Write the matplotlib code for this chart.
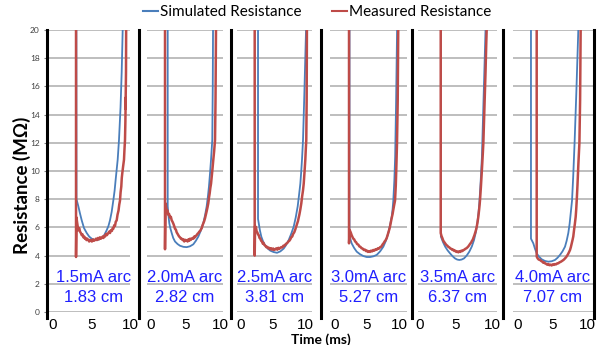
import matplotlib
matplotlib.use("Agg")
import matplotlib.pyplot as plt
from matplotlib.lines import Line2D
import matplotlib.transforms as mtransforms

# ---- data (time in ms, resistance in MOhm) ----
labels_arc = ["1.5mA arc", "2.0mA arc", "2.5mA arc", "3.0mA arc", "3.5mA arc", "4.0mA arc"]
labels_len = ["1.83 cm", "2.82 cm", "3.81 cm", "5.27 cm", "6.37 cm", "7.07 cm"]
x_ticks = [0, 5, 10]
y_ticks = list(range(0, 21, 2))

sim1 = [(3.03, 25), (3.05, 8.0), (3.29, 7.5), (3.5, 7.0), (3.73, 6.5), (4.03, 5.95), (4.38, 5.6),
        (4.7, 5.35), (5.03, 5.2), (5.35, 5.12), (5.68, 5.1), (6.0, 5.15), (6.32, 5.25), (6.65, 5.45),
        (6.97, 5.8), (7.2, 6.1), (7.4, 6.5), (7.62, 7.1), (7.83, 7.9), (8.0, 8.6), (8.14, 9.4),
        (8.4, 10.8), (8.57, 12.2), (8.77, 14.5), (8.92, 17.0), (9.05, 20), (9.16, 25)]
meas1 = [(2.99, 25), (2.99, 3.9), (3.05, 6.7), (3.12, 6.4), (3.2, 6.1), (3.29, 5.8), (3.4, 5.95),
         (3.51, 5.7), (3.62, 5.6), (3.73, 5.45), (3.84, 5.5), (3.94, 5.3), (4.05, 5.35), (4.15, 5.2),
         (4.22, 5.25), (4.35, 5.1), (4.45, 5.2), (4.58, 5.1), (4.7, 5.0), (4.82, 5.12), (4.94, 5.05),
         (5.05, 5.0), (5.2, 5.15), (5.32, 5.05), (5.45, 5.1), (5.58, 5.2), (5.7, 5.1), (5.84, 5.25),
         (5.95, 5.15), (6.1, 5.3), (6.2, 5.2), (6.32, 5.25), (6.45, 5.35), (6.55, 5.25), (6.65, 5.4),
         (6.75, 5.35), (6.9, 5.55), (7.0, 5.45), (7.18, 5.6), (7.3, 5.7), (7.4, 5.6), (7.53, 5.8),
         (7.65, 5.75), (7.75, 5.95), (7.83, 5.9), (7.95, 6.15), (8.05, 6.1), (8.15, 6.4), (8.27, 6.5),
         (8.38, 6.9), (8.51, 7.2), (8.6, 7.6), (8.7, 7.9), (8.78, 8.5), (8.87, 8.9), (8.93, 9.5),
         (9.0, 9.85), (9.1, 10.3), (9.22, 10.8), (9.28, 11.5), (9.35, 12.2), (9.4, 13.5), (9.44, 15.2),
         (9.42, 14.4), (9.48, 17.0), (9.5, 20), (9.52, 25)]

sim2 = [(2.42, 25), (2.42, 7.5), (2.52, 6.9), (2.65, 6.3), (2.8, 5.95), (3.0, 5.6), (3.22, 5.25),
        (3.48, 5.0), (3.85, 4.82), (4.2, 4.7), (4.7, 4.62), (5.17, 4.6), (5.65, 4.66), (6.13, 4.8),
        (6.5, 5.05), (6.86, 5.35), (7.2, 5.75), (7.58, 6.3), (7.85, 6.9), (8.07, 7.5), (8.25, 8.2),
        (8.4, 8.9), (8.55, 9.8), (8.7, 10.8), (8.88, 12.2), (8.95, 16.0), (8.99, 20), (9.05, 25)]
meas2 = [(2.03, 25), (2.03, 4.45), (2.1, 7.7), (2.17, 7.5), (2.3, 7.1), (2.4, 7.2), (2.5, 6.9),
         (2.62, 6.95), (2.75, 6.7), (2.88, 6.75), (3.0, 6.5), (3.12, 6.4), (3.25, 6.25), (3.36, 6.1),
         (3.48, 5.9), (3.6, 5.85), (3.72, 5.65), (3.84, 5.55), (3.96, 5.45), (4.08, 5.35), (4.2, 5.3),
         (4.33, 5.2), (4.45, 5.2), (4.58, 5.1), (4.7, 5.15), (4.82, 5.0), (4.95, 5.12), (5.05, 5.05),
         (5.17, 5.1), (5.3, 5.0), (5.42, 5.15), (5.55, 5.05), (5.66, 5.2), (5.78, 5.12), (5.9, 5.2),
         (6.02, 5.25), (6.14, 5.2), (6.26, 5.35), (6.38, 5.3), (6.5, 5.4), (6.62, 5.45), (6.75, 5.55),
         (6.87, 5.6), (7.0, 5.7), (7.12, 5.75), (7.23, 5.85), (7.35, 5.95), (7.47, 6.15), (7.59, 6.3),
         (7.71, 6.45), (7.83, 6.65), (7.95, 6.9), (8.07, 7.15), (8.18, 7.4), (8.3, 7.7), (8.4, 8.1),
         (8.5, 8.4), (8.6, 8.8), (8.7, 9.1), (8.8, 9.6), (8.9, 10.1), (9.03, 10.8), (9.15, 11.4),
         (9.28, 12.2), (9.35, 15.0), (9.42, 20), (9.45, 25)]

sim3 = [(2.66, 25), (2.66, 6.6), (2.77, 6.3), (2.95, 5.8), (3.17, 5.35), (3.45, 5.0), (3.8, 4.7),
        (4.18, 4.5), (4.58, 4.35), (5.1, 4.25), (5.63, 4.2), (6.15, 4.3), (6.67, 4.5), (7.05, 4.75),
        (7.45, 5.1), (7.85, 5.55), (8.23, 6.05), (8.55, 6.7), (8.86, 7.5), (9.07, 8.3), (9.27, 9.1),
        (9.4, 9.9), (9.53, 10.8), (9.69, 12.2), (9.9, 15.5), (10.16, 20), (10.2, 25)]
meas3 = [(2.14, 25), (2.14, 4.0), (2.2, 6.1), (2.28, 5.9), (2.34, 6.0), (2.45, 5.7), (2.55, 5.65),
         (2.66, 5.5), (2.77, 5.45), (2.9, 5.25), (3.02, 5.2), (3.15, 5.05), (3.28, 5.0), (3.4, 4.85),
         (3.52, 4.9), (3.65, 4.75), (3.8, 4.7), (3.95, 4.6), (4.1, 4.62), (4.25, 4.52), (4.4, 4.55),
         (4.58, 4.45), (4.72, 4.52), (4.88, 4.42), (5.04, 4.5), (5.2, 4.4), (5.36, 4.45), (5.52, 4.52),
         (5.68, 4.42), (5.84, 4.55), (6.0, 4.48), (6.14, 4.55), (6.3, 4.6), (6.46, 4.58), (6.62, 4.7),
         (6.78, 4.68), (6.92, 4.78), (7.08, 4.85), (7.24, 4.9), (7.4, 5.0), (7.55, 5.05), (7.7, 5.15),
         (7.85, 5.3), (8.0, 5.35), (8.16, 5.55), (8.32, 5.65), (8.48, 5.85), (8.62, 6.05), (8.76, 6.25),
         (8.9, 6.45), (9.02, 6.7), (9.14, 6.95), (9.28, 7.3), (9.42, 7.7), (9.55, 8.2), (9.68, 8.6),
         (9.8, 9.1), (9.92, 9.9), (10.05, 10.8), (10.12, 11.5), (10.2, 12.2), (10.26, 15.0),
         (10.3, 20), (10.35, 25)]

sim4 = [(2.27, 25), (2.27, 5.5), (2.42, 5.15), (2.6, 4.87), (2.98, 4.55), (3.39, 4.28), (3.9, 4.1),
        (4.42, 3.97), (4.95, 3.9), (5.47, 3.9), (6.0, 3.95), (6.52, 4.05), (7.05, 4.3), (7.55, 4.63),
        (7.95, 5.05), (8.33, 5.6), (8.6, 6.15), (8.86, 6.75), (9.0, 7.3), (9.11, 7.9), (9.27, 9.3),
        (9.4, 11.0), (9.55, 15.0), (9.7, 20), (9.75, 25)]
meas4 = [(2.19, 25), (2.19, 4.87), (2.3, 5.8), (2.45, 5.65), (2.6, 5.45), (2.75, 5.3), (2.86, 5.2),
         (3.0, 5.15), (3.15, 5.0), (3.3, 4.95), (3.45, 4.82), (3.64, 4.78), (3.8, 4.65), (3.98, 4.62),
         (4.15, 4.52), (4.32, 4.5), (4.5, 4.4), (4.69, 4.42), (4.85, 4.32), (5.0, 4.35), (5.15, 4.26),
         (5.3, 4.32), (5.47, 4.26), (5.63, 4.35), (5.8, 4.3), (5.98, 4.4), (6.15, 4.35), (6.33, 4.45),
         (6.52, 4.42), (6.7, 4.52), (6.88, 4.5), (7.05, 4.6), (7.2, 4.62), (7.3, 4.68), (7.45, 4.8),
         (7.6, 4.88), (7.75, 5.0), (7.92, 5.1), (8.08, 5.25), (8.22, 5.45), (8.35, 5.65), (8.48, 5.85),
         (8.59, 6.05), (8.72, 6.35), (8.85, 6.65), (9.0, 6.95), (9.11, 7.25), (9.25, 7.6), (9.38, 7.9),
         (9.5, 9.0), (9.6, 10.5), (9.69, 12.0), (9.8, 15.0), (9.88, 20), (9.9, 25)]

sim5 = [(2.9, 25), (2.9, 5.35), (3.2, 4.95), (3.5, 4.63), (3.82, 4.38), (4.17, 4.16), (4.5, 3.97),
        (4.86, 3.8), (5.16, 3.72), (5.46, 3.69), (5.78, 3.72), (6.11, 3.8), (6.48, 4.0), (6.85, 4.28),
        (7.2, 4.65), (7.5, 5.1), (7.75, 5.65), (7.96, 6.3), (8.12, 7.0), (8.24, 7.7), (8.42, 9.2),
        (8.6, 11.0), (8.85, 15.5), (9.1, 20), (9.15, 25)]
meas5 = [(2.88, 25), (2.88, 5.6), (2.98, 5.4), (3.1, 5.25), (3.24, 5.05), (3.38, 4.95), (3.52, 4.85),
         (3.66, 4.75), (3.8, 4.7), (3.93, 4.62), (4.08, 4.58), (4.22, 4.5), (4.36, 4.48), (4.5, 4.4),
         (4.63, 4.42), (4.76, 4.33), (4.9, 4.35), (5.04, 4.26), (5.18, 4.3), (5.32, 4.23), (5.46, 4.3),
         (5.6, 4.26), (5.74, 4.35), (5.88, 4.32), (6.01, 4.38), (6.15, 4.42), (6.3, 4.48), (6.45, 4.52),
         (6.58, 4.58), (6.71, 4.65), (6.85, 4.75), (6.98, 4.85), (7.1, 4.92), (7.22, 5.05), (7.32, 5.12),
         (7.45, 5.3), (7.56, 5.45), (7.68, 5.65), (7.78, 5.82), (7.9, 6.1), (8.0, 6.4), (8.1, 6.75),
         (8.2, 7.2), (8.28, 7.6), (8.33, 7.9), (8.45, 8.8), (8.6, 10.1), (8.72, 11.2), (8.8, 12.0),
         (8.95, 14.5), (9.1, 17.0), (9.2, 19.0), (9.26, 20), (9.3, 25)]

sim6 = [(1.88, 25), (1.88, 5.2), (2.22, 4.87), (2.45, 4.5), (2.71, 4.16), (3.05, 3.92), (3.43, 3.74),
        (3.9, 3.62), (4.39, 3.57), (4.88, 3.6), (5.36, 3.69), (5.72, 3.84), (6.09, 4.05), (6.45, 4.3),
        (6.81, 4.63), (7.05, 5.05), (7.29, 5.6), (7.48, 6.25), (7.64, 7.0), (7.83, 7.9), (8.0, 9.6),
        (8.2, 12.0), (8.45, 15.5), (8.74, 20), (8.8, 25)]
meas6 = [(2.71, 25), (2.71, 3.93), (2.85, 3.8), (3.0, 3.72), (3.19, 3.69), (3.35, 3.62), (3.5, 3.58),
         (3.65, 3.5), (3.8, 3.52), (3.91, 3.45), (4.06, 3.42), (4.22, 3.36), (4.38, 3.4), (4.55, 3.32),
         (4.72, 3.36), (4.88, 3.3), (5.04, 3.38), (5.2, 3.34), (5.36, 3.4), (5.52, 3.38), (5.68, 3.45),
         (5.84, 3.45), (6.0, 3.52), (6.16, 3.55), (6.32, 3.6), (6.5, 3.66), (6.66, 3.72), (6.81, 3.8),
         (6.96, 3.88), (7.1, 3.98), (7.25, 4.1), (7.4, 4.25), (7.54, 4.4), (7.66, 4.6), (7.78, 4.85),
         (7.9, 5.1), (8.01, 5.35), (8.12, 5.8), (8.24, 6.25), (8.36, 6.75), (8.44, 7.3), (8.51, 7.9),
         (8.62, 9.0), (8.75, 10.5), (8.9, 12.0), (9.0, 15.0), (9.08, 20), (9.12, 25)]

simulated = [sim1, sim2, sim3, sim4, sim5, sim6]
measured = [meas1, meas2, meas3, meas4, meas5, meas6]

# ---- layout (pixels in a 606x345 canvas) ----
W, H = 606, 345
# (grid start, grid end, pixel of t=0, pixels per ms)
panels = [(48, 130, 53, 7.7), (147, 223, 151, 6.9), (237, 312, 241, 6.4),
          (330, 407, 335, 6.4), (418, 497, 420, 7.2), (513, 593, 518, 6.9)]
separators = [47, 139, 231, 321, 412, 503, 594]
y_top, y_bot = 30, 312

BLUE = "#4a7ebb"
RED = "#be4b48"
GRID = "#b3b3b3"
TXT_BLUE = "#1f1fff"

plt.rcParams["font.family"] = ["Lato", "DejaVu Sans"]

fig = plt.figure(figsize=(W / 100, H / 100), dpi=100)

for i, (g0, g1, x0, s) in enumerate(panels):
    ax = fig.add_axes([g0 / W, 1 - y_bot / H, (g1 - g0) / W, (y_bot - y_top) / H])
    ax.set_xlim((g0 - x0) / s, (g1 - x0) / s)
    ax.set_ylim(0, 20)
    for sp in ax.spines.values():
        sp.set_visible(False)
    ax.set_yticks(y_ticks)
    ax.grid(axis="y", color=GRID, linewidth=1.2)
    ax.set_axisbelow(True)
    ax.set_xticks(x_ticks)
    ax.set_xticklabels([str(v) for v in x_ticks], family="Liberation Sans", fontsize=11)
    ax.tick_params(axis="x", length=0, pad=4)
    if i == 0:
        ax.set_yticklabels([str(v) for v in y_ticks], fontsize=6, color="#404040")
        ax.tick_params(axis="y", length=3, width=0.8, color="#808080", pad=3)
    else:
        ax.tick_params(axis="y", length=0, labelleft=False)

    st, sr = zip(*simulated[i])
    mt, mr = zip(*measured[i])
    ax.plot(st, sr, color=BLUE, linewidth=1.3, clip_on=True, zorder=3)
    ax.plot(mt, mr, color=RED, linewidth=1.8, clip_on=True, zorder=4)

    tr = mtransforms.blended_transform_factory(ax.transAxes, ax.transData)
    cx = 0.55 if i == 0 else 0.5
    ax.text(cx, 2.48, labels_arc[i], transform=tr, ha="center", va="center",
            color=TXT_BLUE, fontsize=12, family="Liberation Sans")
    ax.text(cx, 1.06, labels_len[i], transform=tr, ha="center", va="center",
            color=TXT_BLUE, fontsize=12, family="Liberation Sans")

for xs in separators:
    fig.add_artist(Line2D([xs / W, xs / W], [1 - 318 / H, 1 - y_top / H],
                          color="black", linewidth=2.2, transform=fig.transFigure))

fig.text(22 / W, 1 - 185 / H, "Resistance (MΩ)", rotation=90, ha="center", va="center",
         fontsize=13.5, fontweight="bold", family=["Lato", "DejaVu Sans"])
fig.text(321 / W, 1 - 339.5 / H, "Time (ms)", ha="center", va="center",
         fontsize=10, fontweight="bold")

handles = [Line2D([], [], color=BLUE, linewidth=1.5), Line2D([], [], color=RED, linewidth=1.5)]
fig.legend(handles, ["Simulated Resistance", "Measured Resistance"], loc="center",
           bbox_to_anchor=(317 / W, 1 - 12 / H), ncol=2, frameon=False, fontsize=11,
           handlelength=1.0, handletextpad=0.1, columnspacing=2.0, borderpad=0)

fig.savefig("out.png", dpi=100)
